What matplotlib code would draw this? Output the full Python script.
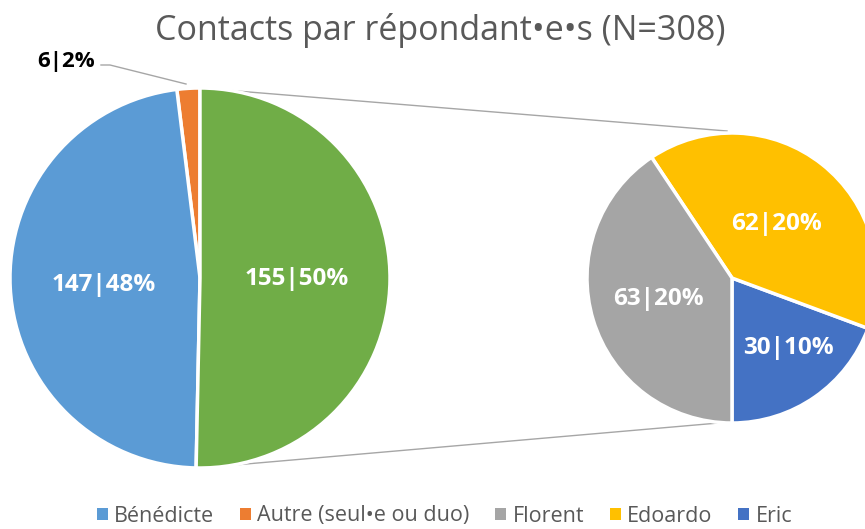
import matplotlib.pyplot as plt
from matplotlib.patches import Patch

# données
main_labels = ["Autre (seul•e ou duo)", "Bénédicte", "Autres"]
main_values = [6, 147, 155]
sub_labels = ["Eric", "Edoardo", "Florent"]
sub_values = [30, 62, 63]
total = 308

main_colors = ["#ED7D31", "#5B9BD5", "#70AD47"]
sub_colors = ["#4472C4", "#FFC000", "#A5A5A5"]

legend_labels = ["Bénédicte", "Autre (seul•e ou duo)", "Florent", "Edoardo", "Eric"]
legend_colors = ["#5B9BD5", "#ED7D31", "#A5A5A5", "#FFC000", "#4472C4"]

W, H = 865, 529
plt.rcParams["font.family"] = ["Open Sans", "DejaVu Sans"]

fig = plt.figure(figsize=(W / 100, H / 100), dpi=100)
ax = fig.add_axes([0, 0, 1, 1])

# positions en pixels (y vers le haut)
c1 = (200, H - 278)
r1 = 190
c2 = (732, H - 278)
r2 = 145

ax.pie(main_values, colors=main_colors, startangle=90, counterclock=True,
       center=c1, radius=r1, frame=True,
       wedgeprops=dict(edgecolor="white", linewidth=2.5))
ax.pie(sub_values, colors=sub_colors, startangle=-90, counterclock=True,
       center=c2, radius=r2, frame=True,
       wedgeprops=dict(edgecolor="white", linewidth=2.5))

# lignes de liaison
ax.plot([200, 727], [H - 88, H - 131], color="#A6A6A6", lw=1, zorder=0)
ax.plot([200, 730], [H - 468, H - 422], color="#A6A6A6", lw=1, zorder=0)

# étiquettes
def fmt(v):
    return f"{v}|{round(v / total * 100)}%"

lab_kw = dict(color="white", fontsize=17.5, fontweight="bold", ha="center", va="center")
ax.text(104, H - 285, fmt(main_values[1]), **lab_kw)
ax.text(297, H - 279, fmt(main_values[2]), **lab_kw)
ax.text(658, H - 299, fmt(sub_values[2]), **lab_kw)
ax.text(777, H - 224, fmt(sub_values[1]), **lab_kw)
ax.text(788, H - 348, fmt(sub_values[0]), **lab_kw)

ax.text(66, H - 61, fmt(main_values[0]), color="black", fontsize=16, fontweight="bold",
        ha="center", va="center")
ax.plot([101, 110, 186], [H - 65, H - 65, H - 84], color="#A6A6A6", lw=1)

ax.text(W / 2 + 8, H - 31, "Contacts par répondant•e•s (N=308)", color="#595959",
        fontsize=24.5, ha="center", va="center")

handles = [Patch(facecolor=c, edgecolor="none") for c in legend_colors]
fig.legend(handles, legend_labels, loc="center", bbox_to_anchor=(0.514, 1 - 516 / H),
           ncol=5, frameon=False, fontsize=15.5, labelcolor="#595959",
           handlelength=0.5, handleheight=0.5, handletextpad=0.3, columnspacing=1.2)

ax.set_xlim(0, W)
ax.set_ylim(0, H)
ax.set_aspect("equal")
ax.axis("off")

fig.savefig("out.png", dpi=100)
